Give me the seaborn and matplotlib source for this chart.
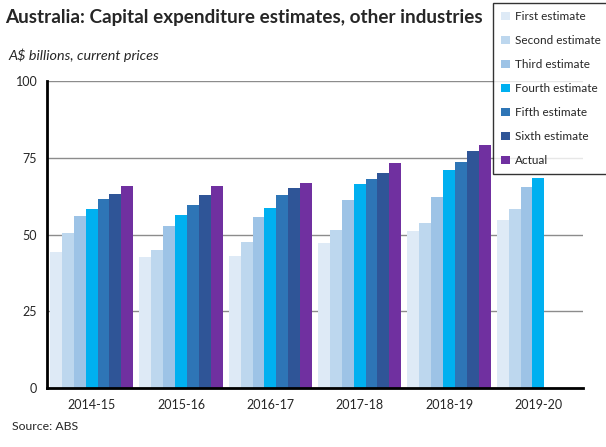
import matplotlib
matplotlib.use("Agg")
import matplotlib.pyplot as plt
import seaborn as sns
import pandas as pd
import numpy as np
from matplotlib.patches import Patch

years = ["2014-15", "2015-16", "2016-17", "2017-18", "2018-19", "2019-20"]
series = ["First estimate", "Second estimate", "Third estimate", "Fourth estimate",
          "Fifth estimate", "Sixth estimate", "Actual"]
first = [44.3, 42.7, 43.0, 47.2, 51.1, 54.7]
second = [50.5, 45.0, 47.6, 51.5, 53.8, 58.3]
third = [56.0, 52.8, 55.7, 61.3, 62.2, 65.5]
fourth = [58.3, 56.4, 58.7, 66.4, 71.0, 68.4]
fifth = [61.6, 59.6, 62.9, 68.0, 73.6, np.nan]
sixth = [63.2, 62.9, 65.2, 70.0, 77.2, np.nan]
actual = [65.8, 65.8, 66.8, 73.3, 79.2, np.nan]
colors = ["#DEEAF6", "#BDD7EE", "#9DC3E6", "#00B0F0", "#2E75B6", "#2F5597", "#7030A0"]

values = [first, second, third, fourth, fifth, sixth, actual]
rows = []
for s, vals in zip(series, values):
    for y, v in zip(years, vals):
        rows.append({"year": y, "series": s, "value": v})
df = pd.DataFrame(rows)

sns.set_style("white")
plt.rcParams['font.family'] = ['Lato', 'DejaVu Sans']

fig = plt.figure(figsize=(6.06, 4.47), dpi=100)
ax = fig.add_axes([47/606, (447-388)/447, (583-47)/606, (388-81)/447])

sns.barplot(data=df, x="year", y="value", hue="series", hue_order=series,
            order=years, palette=colors, width=0.93, saturation=1,
            ax=ax, legend=False, linewidth=0, errorbar=None)

ax.set_ylim(0, 100)
ax.set_xlim(-0.5, 5.5)
ax.set_yticks([0, 25, 50, 75, 100])
ax.set_yticklabels(["0", "25", "50", "75", "100"], fontsize=9)
ax.yaxis.grid(True, color="#8C8C8C", linewidth=1)
ax.set_axisbelow(True)
ax.set_xlabel("")
ax.set_ylabel("")
ax.tick_params(axis="x", which="major", length=0, labelsize=9, pad=8)
ax.set_xticks(np.arange(-0.5, 6.0, 1.0), minor=True)
ax.tick_params(axis="x", which="minor", length=5, width=2, color="black", direction="out")
ax.tick_params(axis="y", length=4, width=2, color="black", direction="out", pad=3)
for sp in ["top", "right"]:
    ax.spines[sp].set_visible(False)
ax.spines["left"].set_linewidth(2)
ax.spines["left"].set_color("black")
ax.spines["bottom"].set_linewidth(2)
ax.spines["bottom"].set_color("black")

fig.text(5/606, 1 - 18/447, "Australia: Capital expenditure estimates, other industries",
         fontsize=13.6, fontweight="bold", va="center", ha="left")
fig.text(8/606, 1 - 55/447, "A$ billions, current prices", fontsize=10.4,
         style="italic", va="center", ha="left")
fig.text(12/606, 1 - 427/447, "Source: ABS", fontsize=8.8, va="center", ha="left")

handles = [Patch(facecolor=c, edgecolor="none") for c in colors]
leg = fig.legend(handles, series, loc="upper left",
                 bbox_to_anchor=(493/606, 1 - 3/447), fontsize=8.5,
                 frameon=True, fancybox=False, edgecolor="black",
                 handlelength=0.75, handleheight=0.75, handletextpad=0.4,
                 labelspacing=1.1, borderpad=0.7, borderaxespad=0)
leg.get_frame().set_linewidth(1)

fig.savefig("out.png", dpi=100)
